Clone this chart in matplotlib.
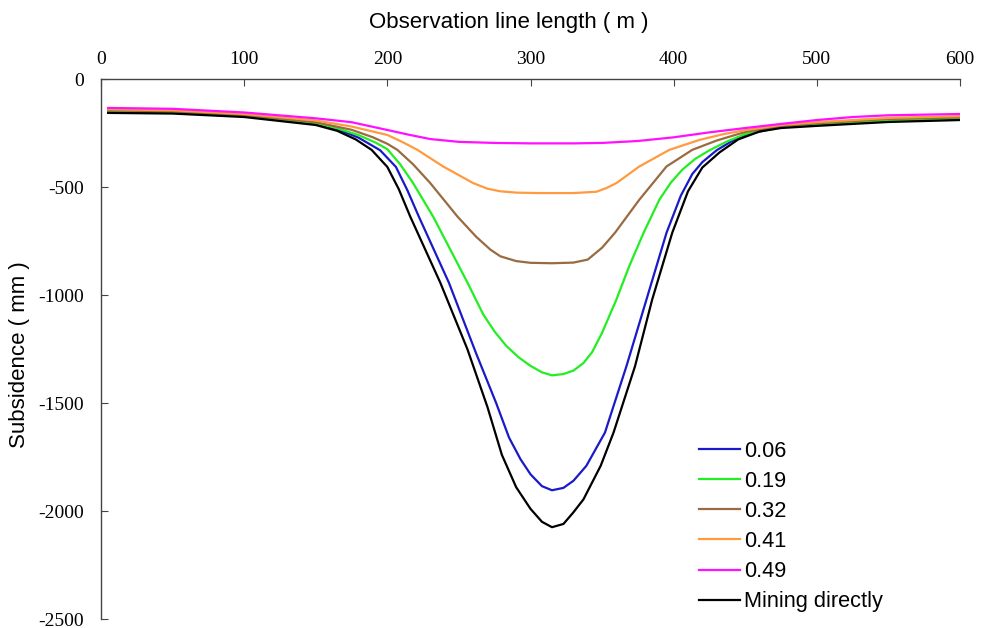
import matplotlib
matplotlib.use('Agg')
import matplotlib.pyplot as plt

plt.rcParams['axes.unicode_minus'] = False

# subsidence (mm) vs. observation line length (m)
x006 = [5, 50, 100, 150, 165, 180, 195, 206, 214, 222, 243, 262, 276, 285, 293, 300, 308, 315,
        323, 330, 339, 352, 367, 381, 395, 405, 413, 420, 430, 440, 450, 475, 500, 550, 600]
s006 = [-150, -155, -172, -207, -232, -272, -330, -407, -515, -637, -943, -1270, -1500, -1660,
        -1760, -1830, -1885, -1904, -1893, -1860, -1791, -1637, -1330, -1021, -712, -540, -440,
        -385, -330, -290, -258, -222, -212, -195, -186]

x019 = [5, 50, 100, 150, 165, 180, 192, 200, 209, 218, 232, 244, 256, 267, 275, 283, 292, 300,
        308, 315, 323, 330, 337, 343, 350, 360, 369, 379, 390, 398, 406, 415, 425, 437, 450, 475,
        500, 550, 600]
s019 = [-148, -152, -170, -204, -228, -260, -295, -325, -395, -482, -637, -790, -943, -1090,
        -1170, -1235, -1290, -1328, -1358, -1372, -1366, -1350, -1315, -1265, -1175, -1021, -866,
        -712, -559, -480, -420, -370, -330, -290, -255, -220, -208, -192, -182]

x032 = [5, 50, 100, 150, 175, 190, 200, 207, 218, 230, 249, 262, 272, 279, 290, 300, 315, 330,
        340, 350, 359, 376, 395, 413, 430, 450, 475, 500, 550, 600]
s032 = [-145, -150, -167, -200, -235, -270, -300, -328, -395, -482, -637, -730, -790, -821, -843,
        -851, -853, -850, -836, -781, -712, -559, -405, -328, -285, -245, -218, -205, -185, -178]

x041 = [5, 50, 100, 150, 175, 200, 210, 221, 239, 260, 270, 279, 290, 305, 330, 346, 353, 360,
        376, 397, 418, 435, 450, 475, 500, 550, 600]
s041 = [-140, -145, -162, -192, -220, -259, -290, -328, -405, -482, -508, -520, -526, -528, -528,
        -522, -505, -482, -405, -328, -282, -255, -237, -213, -200, -180, -172]

x049 = [5, 50, 100, 150, 175, 200, 215, 230, 250, 275, 300, 330, 350, 375, 400, 425, 450, 475,
        500, 525, 550, 600]
s049 = [-134, -138, -155, -182, -200, -236, -258, -278, -291, -296, -298, -298, -296, -287, -270,
        -247, -227, -208, -190, -176, -168, -162]

xdir = [5, 50, 100, 150, 165, 178, 189, 200, 208, 216, 237, 256, 270, 280, 290, 300, 308, 315,
        323, 330, 337, 349, 358, 373, 385, 399, 410, 420, 432, 445, 460, 475, 500, 550, 600]
sdir = [-157, -160, -176, -213, -240, -280, -328, -407, -510, -637, -943, -1252, -1520, -1740,
        -1890, -1990, -2050, -2075, -2060, -2006, -1946, -1791, -1637, -1330, -1021, -712, -520,
        -410, -340, -280, -243, -227, -217, -199, -190]

labels = ['0.06', '0.19', '0.32', '0.41', '0.49', 'Mining directly']
colors = ['#1a1ac8', '#22ee22', '#9a6a40', '#ff9a40', '#ff10ff', '#000000']


def drawFigure():
    fig = plt.figure(figsize=(9.84, 6.28), dpi=100)
    ax = fig.add_axes([101 / 984, 1 - 619 / 628, 859 / 984, 540 / 628])

    series = [(x006, s006), (x019, s019), (x032, s032), (x041, s041), (x049, s049), (xdir, sdir)]
    for (xs, ys), lab, c in zip(series, labels, colors):
        ax.plot(xs, ys, color=c, lw=1.6, label=lab)

    ax.set_xlim(0, 600)
    ax.set_ylim(-2500, 0)
    ax.xaxis.tick_top()
    ax.xaxis.set_label_position('top')
    ax.set_xticks(range(0, 601, 100))
    ax.set_yticks(range(-2500, 1, 500))
    ax.spines['right'].set_visible(False)
    ax.spines['bottom'].set_visible(False)
    for sp in ['left', 'top']:
        ax.spines[sp].set_color('#444444')
        ax.spines[sp].set_linewidth(1.0)
    ax.tick_params(direction='in', length=5, color='#444444', labelsize=14)
    ax.tick_params(axis='x', pad=8)
    ax.tick_params(axis='y', pad=12)
    for t in ax.get_xticklabels() + ax.get_yticklabels():
        t.set_fontfamily('Liberation Serif')

    ax.set_xlabel('Observation line length ( m )', fontsize=16, family='Liberation Sans')
    ax.xaxis.set_label_coords(0.475, 1.095)
    ax.set_ylabel('Subsidence ( mm )', fontsize=16, family='Liberation Sans')
    ax.yaxis.set_label_coords(-0.083, 0.49)

    ax.legend(loc='upper left', bbox_to_anchor=(679 / 984, 1 - 421 / 628),
              bbox_transform=fig.transFigure, frameon=False,
              prop={'family': 'Liberation Sans', 'size': 15.7},
              handlelength=1.9, handletextpad=0.2, labelspacing=0.42)

    fig.savefig('out.png', dpi=100)


drawFigure()
